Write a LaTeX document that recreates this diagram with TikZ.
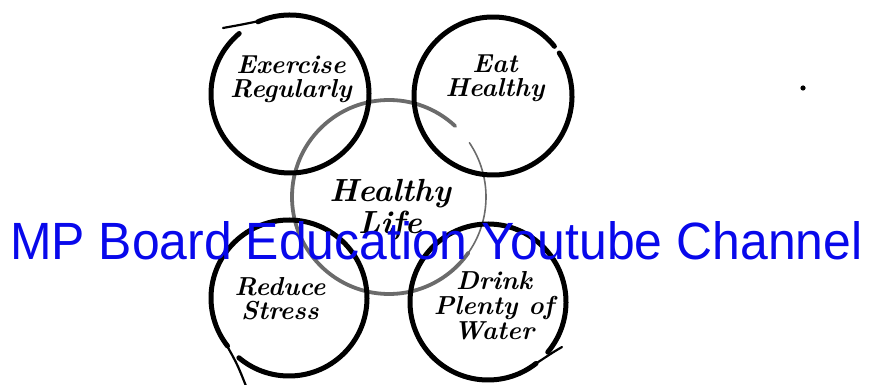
\documentclass[tikz,border=0pt]{standalone}
\usepackage{fontspec}
\newfontfamily\bannerfont{Liberation Sans}
\definecolor{bannerblue}{RGB}{8,8,235}
\begin{document}
\begin{tikzpicture}[x=1pt,y=1pt,
  brush/.style={line width=5pt, line cap=round, black},
  tailbrush/.style={line width=2.2pt, line cap=round, black},
  softbrush/.style={line width=3.8pt, line cap=round, black!58},
  thinbrush/.style={line width=1.6pt, line cap=round, black!58},
  label/.style={inner sep=0pt, anchor=north, align=center,
    font=\bfseries\itshape\fontsize{26}{23.5}\selectfont},
  banner/.style={inner sep=0pt, anchor=base west, text=bannerblue, font=\bannerfont}]
\useasboundingbox (0,0) rectangle (869,385);

% circle centres
\coordinate (cEx) at (290,291);
\coordinate (cEat) at (493,289);
\coordinate (cLife) at (389,188);
\coordinate (cRe) at (289,87);
\coordinate (cDr) at (488,83);

% free ends of the brush tails
\coordinate (tEx) at (223,357);
\coordinate (tRe) at (246,-1);
\coordinate (tDr) at (562,38);

% central circle (grey brush, thin on the right)
\draw[softbrush] ([shift={(47:97)}]cLife) arc[start angle=47, end angle=325, radius=97];
\draw[thinbrush] ([shift={(34:97)}]cLife) arc[start angle=34, end angle=-35, radius=97];

% outer circles
\draw[brush] ([shift={(130:79)}]cEx) arc[start angle=130, end angle=474, radius=79];
\draw[tailbrush] ([shift={(112:79)}]cEx) .. controls ([shift={(124:84)}]cEx) .. (tEx);

\draw[brush] ([shift={(33:79)}]cEat) arc[start angle=33, end angle=-321, radius=79];

\draw[brush] ([shift={(230:78)}]cRe) arc[start angle=230, end angle=578, radius=78];
\draw[tailbrush] ([shift={(216:78)}]cRe) .. controls ([shift={(232:84)}]cRe) .. (tRe);

\draw[brush] ([shift={(-40:78)}]cDr) arc[start angle=-40, end angle=308, radius=78];
\draw[tailbrush] ([shift={(300:78)}]cDr) .. controls ([shift={(322:82)}]cDr) .. (tDr);

% labels
\node[label] (ex) at (291,329) {Exercise\\Regularly};
\node[label] (eat) at (495,330) {Eat\\Healthy};
\node[label, font=\bfseries\itshape\fontsize{32}{32}\selectfont] (life) at (390,206) {Healthy\\Life};
\node[label, font=\bfseries\itshape\fontsize{26}{24.5}\selectfont] (re) at (280,108) {Reduce\\Stress};
\node[label, font=\bfseries\itshape\fontsize{26}{25}\selectfont] (dr) at (494,114) {Drink\\Plenty of\\Water};

% stray speck
\fill (803,297) circle (2.6);

% banner
\node[banner] (bn) at (10,125) {\resizebox{852pt}{38pt}{MP Board Education Youtube Channel}};
\end{tikzpicture}
\end{document}
